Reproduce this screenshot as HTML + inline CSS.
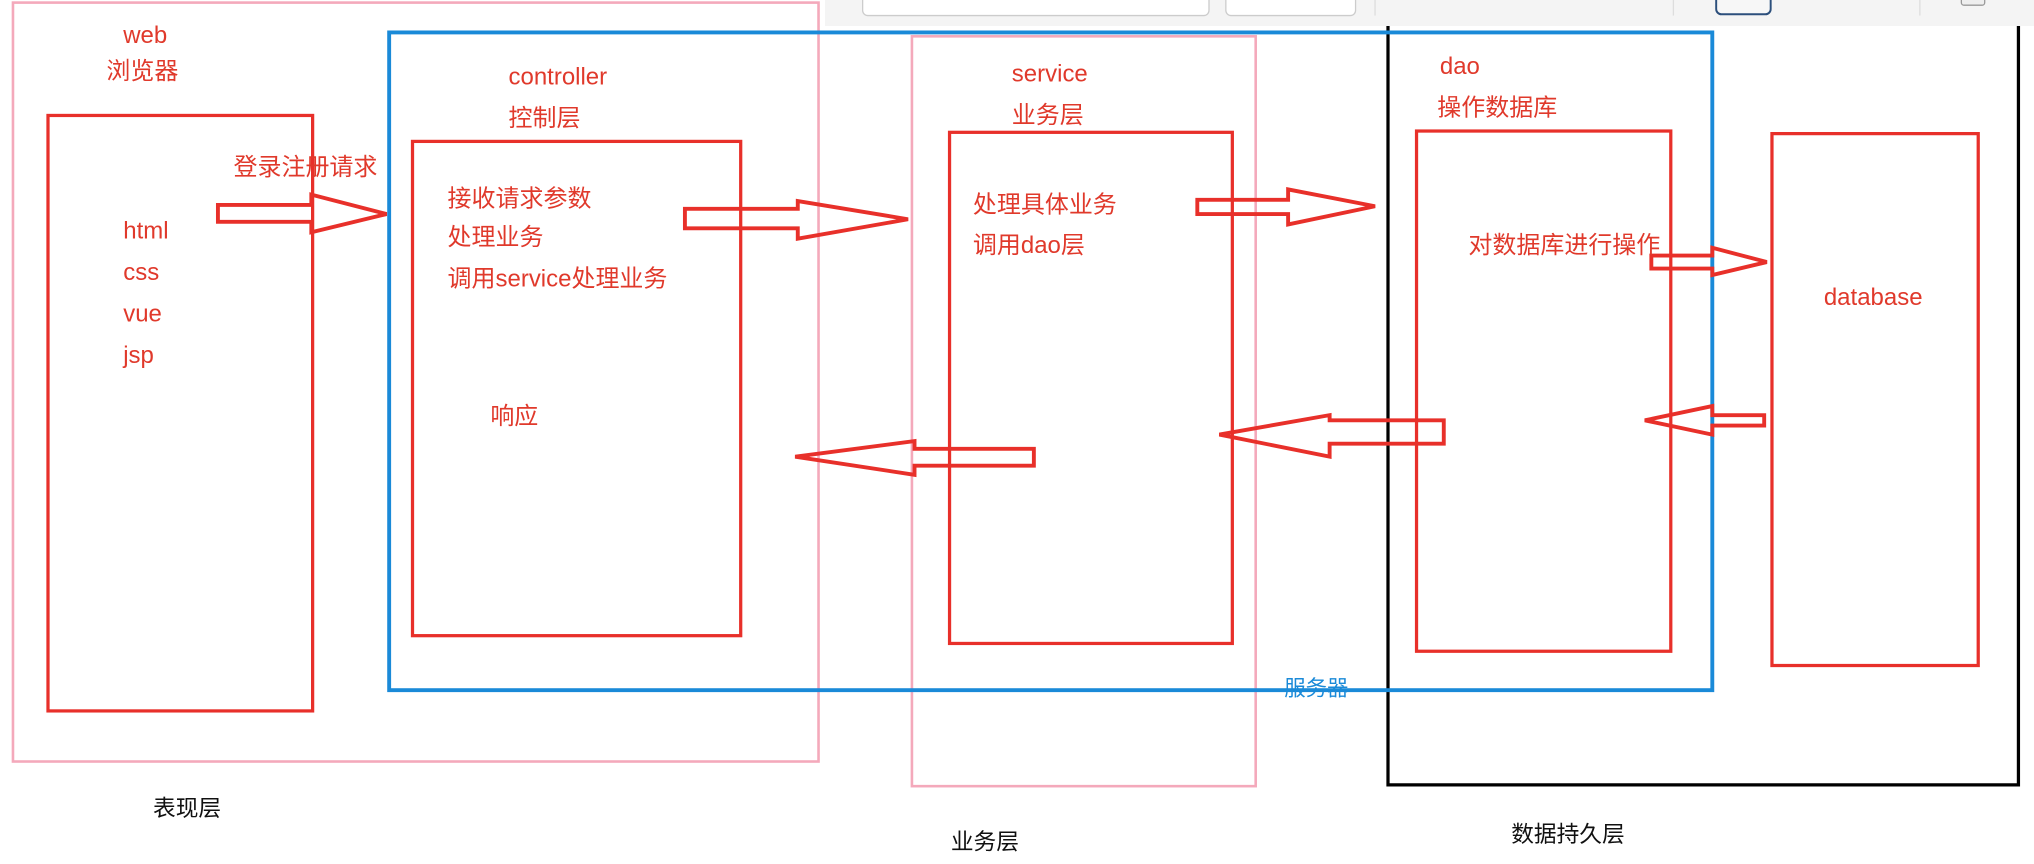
<!DOCTYPE html>
<html><head><meta charset="utf-8"><style>
html,body{margin:0;padding:0;background:#fff;}
svg{display:block;}
text{font-family:"Liberation Sans","Noto Sans CJK SC",sans-serif;}
</style></head><body>
<svg width="2034" height="864" viewBox="0 0 1568 666" preserveAspectRatio="none" xmlns="http://www.w3.org/2000/svg">
<rect x="0" y="0" width="1568" height="666" fill="#fff"/>
<rect x="636" y="0" width="932" height="20" fill="#f4f4f4"/>
<rect x="665" y="-6" width="267" height="18" rx="4" fill="#fff" stroke="#ccc"/>
<rect x="945" y="-6" width="100" height="18" rx="4" fill="#fff" stroke="#ccc"/>
<line x1="1060" y1="0" x2="1060" y2="12" stroke="#ddd"/>
<line x1="1290" y1="0" x2="1290" y2="12" stroke="#ddd"/>
<rect x="1323" y="-6" width="42" height="17" rx="4" fill="#f7f7f7" stroke="#2c4f7c" stroke-width="1.5"/>
<line x1="1480" y1="0" x2="1480" y2="12" stroke="#ddd"/>
<rect x="1512" y="-6" width="18" height="10" rx="2" fill="#eee" stroke="#999"/>

<rect x="10" y="2" width="621" height="585" fill="none" stroke="#f4a9bb" stroke-width="2"/>
<rect x="703" y="28" width="265" height="578" fill="none" stroke="#f4a9bb" stroke-width="2"/>
<path d="M1070 20 V605 H1556 V20" fill="none" stroke="#000" stroke-width="2.5"/>
<rect x="300" y="25" width="1020" height="507" fill="none" stroke="#1a8ad8" stroke-width="3"/>

<g fill="none" stroke="#e8302a" stroke-width="2.5">
<rect x="37" y="89" width="204" height="459"/>
<rect x="318" y="109" width="253" height="381"/>
<rect x="732" y="102" width="218" height="394"/>
<rect x="1092" y="101" width="196" height="401"/>
<rect x="1366" y="103" width="159" height="410"/>
</g>

<g fill="none" stroke="#e8302a" stroke-width="3" stroke-linejoin="miter">
<path d="M168 158 H240 V150 L298 165 L240 179 V171 H168 Z"/>
<path d="M528 161 H615 V155 L700 169 L615 184 V176 H528 Z"/>
<path d="M923 154 H993 V146 L1060 159 L993 173 V165 H923 Z"/>
<path d="M1273 197 H1320 V191 L1362 202 L1320 212 V207 H1273 Z"/>
<path d="M1113 324 H1025 V320 L940 335 L1025 352 V342 H1113 Z"/>
<path d="M797 346 H705 V340 L613 352 L705 366 V359 H797 Z"/>
<path d="M1360 320 H1320 V313 L1268 324 L1320 335 V328 H1360 Z"/>
</g>

<g fill="#e0392b" font-size="18.5">
<text x="95" y="33">web</text>
<text x="82" y="61">浏览器</text>
<text x="392" y="65">controller</text>
<text x="392" y="97">控制层</text>
<text x="780" y="63">service</text>
<text x="780" y="95">业务层</text>
<text x="1110" y="57">dao</text>
<text x="1108" y="89">操作数据库</text>
<text x="180" y="135">登录注册请求</text>
<text x="95" y="184">html</text>
<text x="95" y="216">css</text>
<text x="95" y="248">vue</text>
<text x="95" y="280">jsp</text>
<text x="345" y="159">接收请求参数</text>
<text x="345" y="189">处理业务</text>
<text x="345" y="221">调用service处理业务</text>
<text x="378" y="327">响应</text>
<text x="750" y="164">处理具体业务</text>
<text x="750" y="195">调用dao层</text>
<text x="1132" y="195">对数据库进行操作</text>
<text x="1406" y="235">database</text>
</g>
<text x="990" y="536" fill="#1a8ad8" font-size="16.5">服务器</text>
<g fill="#111" font-size="17.5">
<text x="118" y="629">表现层</text>
<text x="733" y="655">业务层</text>
<text x="1165" y="649">数据持久层</text>
</g>
</svg>
</body></html>
